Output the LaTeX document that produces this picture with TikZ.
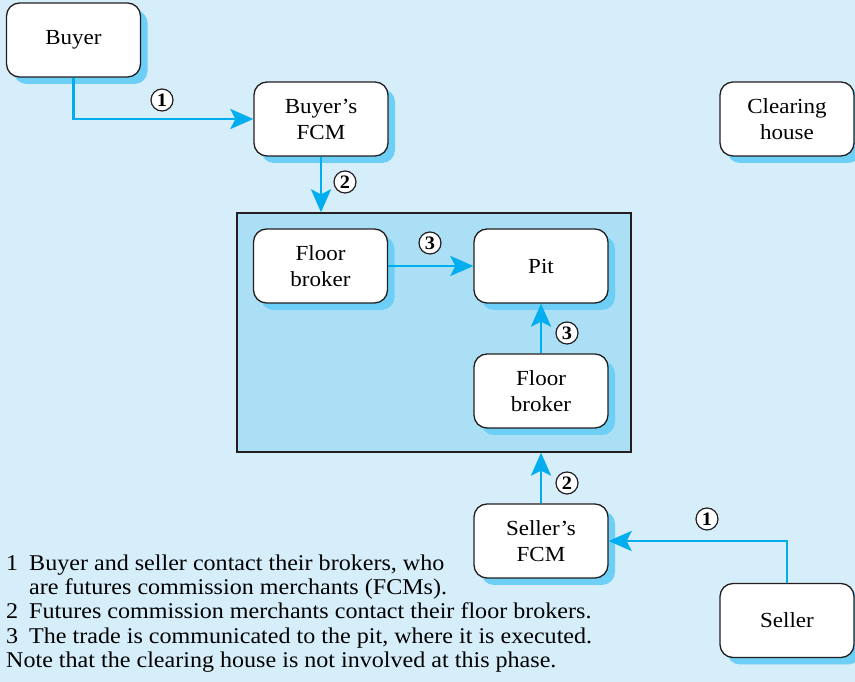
\documentclass[tikz,border=0pt]{standalone}
\usepackage{fontspec}
\setmainfont[FakeStretch=1.07]{Liberation Serif}
\usepackage{xcolor}
\usepackage{tikz}
\usetikzlibrary{arrows.meta,positioning,shadows}
\definecolor{paper}{RGB}{214,238,250}
\definecolor{floor}{RGB}{170,223,246}
\definecolor{flowblue}{RGB}{0,174,239}
\definecolor{shadeblue}{RGB}{109,207,246}
\definecolor{ink}{RGB}{35,31,32}

\begin{document}
\begin{tikzpicture}[
    x=1pt, y=1pt,
    party/.style={draw=ink,line width=1.3pt,fill=white,rounded corners=13pt,
        minimum width=134pt,minimum height=74pt,align=center,
        font=\fontsize{21.5}{26}\selectfont,
        drop shadow={shadow xshift=7pt,shadow yshift=-7pt,fill=shadeblue,opacity=1}},
    exchange/.style={draw=ink,line width=1.3pt,fill=floor,
        minimum width=394pt,minimum height=239pt},
    flow/.style={->,draw=flowblue,line width=2.8pt},
    stepno/.style={circle,draw=ink,line width=1.2pt,fill=white,minimum size=22pt,
        inner sep=0pt,font=\fontsize{19}{19}\selectfont\bfseries},
    >={Stealth[length=23pt,width=20pt,inset=5pt]}
]
\fill[paper] (0,0) rectangle (855,682);
\useasboundingbox (0,0) rectangle (855,682);
\node[exchange] (exch) at (434,349.5) {};
\node[party] (buyer) at (73.5,642) {Buyer};
\node[party] (bfcm) at (321,563) {Buyer's\\FCM};
\node[party] (clear) at (787,563) {Clearing\\house};
\node[party] (fbbuy) at (320.5,416) {Floor\\broker};
\node[party] (pit) at (541,416) {Pit};
\node[party] (fbsell) at (541,291) {Floor\\broker};
\node[party] (sfcm) at (541,141) {Seller's\\FCM};
\node[party] (seller) at (787,61.5) {Seller};
\draw[flow] (buyer.south) |- (bfcm.west);
\draw[flow] (bfcm.south) -- (bfcm.south |- exch.north);
\draw[flow] (fbbuy.east) -- (pit.west);
\draw[flow] (fbsell.north) -- (pit.south);
\draw[flow] (sfcm.north) -- (sfcm.north |- exch.south);
\draw[flow] (seller.north) |- (sfcm.east);
\node[stepno] (n1b) at (162,582) {1};
\node[stepno] (n2b) at (345,500) {2};
\node[stepno] (n3b) at (430,439) {3};
\node[stepno] (n3s) at (567,349) {3};
\node[stepno] (n2s) at (567,199) {2};
\node[stepno] (n1s) at (707,163) {1};
\node[anchor=north west,inner sep=0pt,font=\fontsize{22.5}{24.3}\selectfont] (notes) at (6,129) {%
\begin{tabular}{@{}l@{\hspace{11pt}}l@{}}
1 & Buyer and seller contact their brokers, who\\
  & are futures commission merchants (FCMs).\\
2 & Futures commission merchants contact their floor brokers.\\
3 & The trade is communicated to the pit, where it is executed.\\
\multicolumn{2}{@{}l@{}}{Note that the clearing house is not involved at this phase.}
\end{tabular}};
\end{tikzpicture}
\end{document}
